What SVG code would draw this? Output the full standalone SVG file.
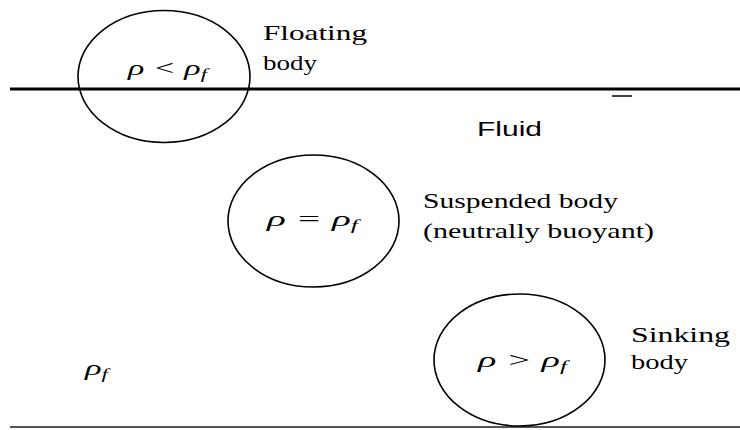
<svg xmlns="http://www.w3.org/2000/svg" width="740" height="430" viewBox="0 0 740 430">
<style>
.body{fill:none;stroke:#000;stroke-width:1.6}
.lbl{font-family:"Liberation Serif","Times New Roman",serif;font-size:21px;fill:#000}
.math{font-family:"Liberation Serif","Times New Roman",serif;font-style:italic;font-size:21px;fill:#000}
.sub{font-size:14px}
.fluid{font-family:"Liberation Sans",Arial,sans-serif;font-size:21px;fill:#000}
</style>
<rect width="740" height="430" fill="#fff"/>
<g id="lines">
<line x1="10" y1="89" x2="740" y2="89" stroke="#000" stroke-width="3"/>
<line x1="612" y1="96" x2="632" y2="96" stroke="#000" stroke-width="1.5"/>
<line x1="10" y1="427" x2="740" y2="427" stroke="#555" stroke-width="2"/>
</g>
<g id="floating">
<ellipse class="body" cx="164" cy="76.5" rx="86" ry="66"/>
<text class="math" x="128" y="75" textLength="79" lengthAdjust="spacingAndGlyphs">ρ &lt; ρ<tspan class="sub" dy="4">f</tspan></text>
<text class="lbl" x="263" y="40" textLength="104" lengthAdjust="spacingAndGlyphs">Floating</text>
<text class="lbl" x="263" y="70" textLength="54" lengthAdjust="spacingAndGlyphs">body</text>
</g>
<g id="fluid">
<text class="fluid" x="477" y="136" textLength="65" lengthAdjust="spacingAndGlyphs">Fluid</text>
<text class="math" x="85" y="375" textLength="23" lengthAdjust="spacingAndGlyphs">ρ<tspan class="sub" dy="4">f</tspan></text>
</g>
<g id="suspended">
<ellipse class="body" cx="313.5" cy="221" rx="85.5" ry="66"/>
<text class="math" x="267" y="226" textLength="91" lengthAdjust="spacingAndGlyphs">ρ = ρ<tspan class="sub" dy="4">f</tspan></text>
<text class="lbl" x="423" y="208" textLength="195" lengthAdjust="spacingAndGlyphs">Suspended body</text>
<text class="lbl" x="423" y="238" textLength="231" lengthAdjust="spacingAndGlyphs">(neutrally buoyant)</text>
</g>
<g id="sinking">
<ellipse class="body" cx="519.5" cy="360" rx="85.5" ry="66"/>
<text class="math" x="478" y="367" textLength="89" lengthAdjust="spacingAndGlyphs">ρ &gt; ρ<tspan class="sub" dy="4">f</tspan></text>
<text class="lbl" x="631" y="342" textLength="99" lengthAdjust="spacingAndGlyphs">Sinking</text>
<text class="lbl" x="631" y="369" textLength="57" lengthAdjust="spacingAndGlyphs">body</text>
</g>
</svg>
